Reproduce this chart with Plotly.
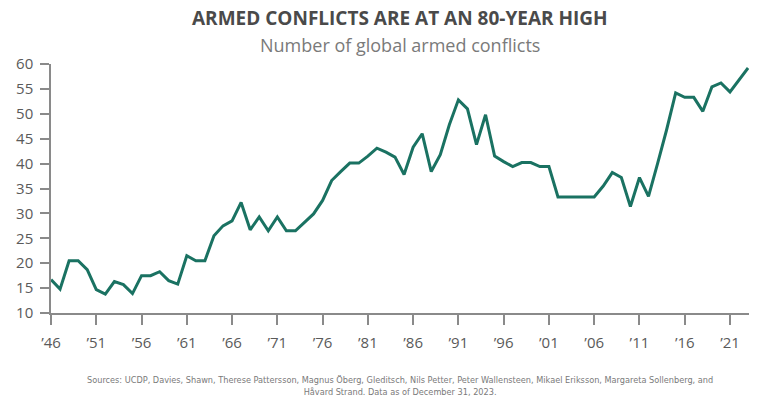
import plotly.graph_objects as go

years = list(range(1946, 2024))
conflicts = [
    16.7, 14.8, 20.5, 20.5, 18.7, 14.7, 13.8, 16.3, 15.7, 13.9,   # 1946-1955
    17.5, 17.5, 18.3, 16.5, 15.8, 21.5, 20.5, 20.5, 25.5, 27.5,   # 1956-1965
    28.5, 32.2, 26.7, 29.3, 26.5, 29.3, 26.5, 26.5, 28.2, 29.9,   # 1966-1975
    32.6, 36.6, 38.4, 40.1, 40.1, 41.5, 43.1, 42.3, 41.3, 37.8,   # 1976-1985
    43.3, 46.0, 38.4, 41.8, 47.8, 52.8, 51.0, 43.8, 49.8, 41.5,   # 1986-1995
    40.4, 39.4, 40.2, 40.2, 39.4, 39.4, 33.3, 33.3, 33.3, 33.3,   # 1996-2005
    33.3, 35.5, 38.2, 37.2, 31.4, 37.2, 33.4, 40.0, 46.8, 54.2,   # 2006-2015
    53.3, 53.3, 50.5, 55.4, 56.2, 54.4, 56.8, 59.2,               # 2016-2023
]

x_tick_vals = list(range(1946, 2022, 5))
x_tick_text = ["\u2019" + str(y)[2:] for y in x_tick_vals]
y_tick_vals = list(range(10, 61, 5))

title = "ARMED CONFLICTS ARE AT AN 80-YEAR HIGH"
subtitle = "Number of global armed conflicts"
source = ("Sources: UCDP, Davies, Shawn, Therese Pattersson, Magnus \u00d6berg, Gleditsch, Nils Petter, "
          "Peter Wallensteen, Mikael Eriksson, Margareta Sollenberg, and<br>"
          "H\u00e5vard Strand. Data as of December 31, 2023.")

line_color = "#1a7262"
axis_color = "#8a8a8a"
text_color = "#5a5a5a"

W, H = 768, 399
ML, MR, MT, MB = 51, 19, 64, 86

fig = go.Figure()
fig.add_trace(go.Scatter(
    x=years, y=conflicts, mode="lines",
    line=dict(color=line_color, width=3),
    hoverinfo="x+y", showlegend=False,
))

plot_h = H - MT - MB
def ypix(py):
    return (H - MB - py) / plot_h

fig.update_layout(
    width=W, height=H,
    paper_bgcolor="white", plot_bgcolor="white",
    margin=dict(l=ML, r=MR, t=MT, b=MB),
    font=dict(family="Open Sans", color=text_color),
    xaxis=dict(
        range=[1946, 2023.1], tickvals=x_tick_vals, ticktext=x_tick_text,
        showgrid=False, zeroline=False, showline=True, linecolor=axis_color, linewidth=1.5,
        ticks="outside", ticklen=10, tickwidth=1.5, tickcolor=axis_color,
        ticklabelstandoff=5,
        tickfont=dict(size=15, color=text_color), fixedrange=True,
    ),
    yaxis=dict(
        range=[10, 60], tickvals=y_tick_vals,
        showgrid=False, zeroline=False, showline=True, linecolor=axis_color, linewidth=1.5,
        ticks="outside", ticklen=9, tickwidth=1.5, tickcolor=axis_color,
        ticklabelstandoff=4,
        tickfont=dict(size=15, color=text_color), fixedrange=True,
    ),
    annotations=[
        dict(text="<b>" + title + "</b>", x=0.5, y=ypix(18), xref="paper", yref="paper",
             yanchor="middle", showarrow=False,
             font=dict(size=19, color="#4a4a4a", family="Open Sans")),
        dict(text=subtitle, x=0.5, y=ypix(45), xref="paper", yref="paper",
             yanchor="middle", showarrow=False,
             font=dict(size=18, color="#7a7a7a", family="Open Sans")),
        dict(text=source, x=0.5, y=ypix(386), xref="paper", yref="paper",
             yanchor="middle", showarrow=False,
             font=dict(size=9.1, color="#7a7a7a", family="DejaVu Sans Condensed")),
    ],
)

fig.write_html("out.html", config={"displayModeBar": False},
               post_script="document.body.style.margin='0px';")
